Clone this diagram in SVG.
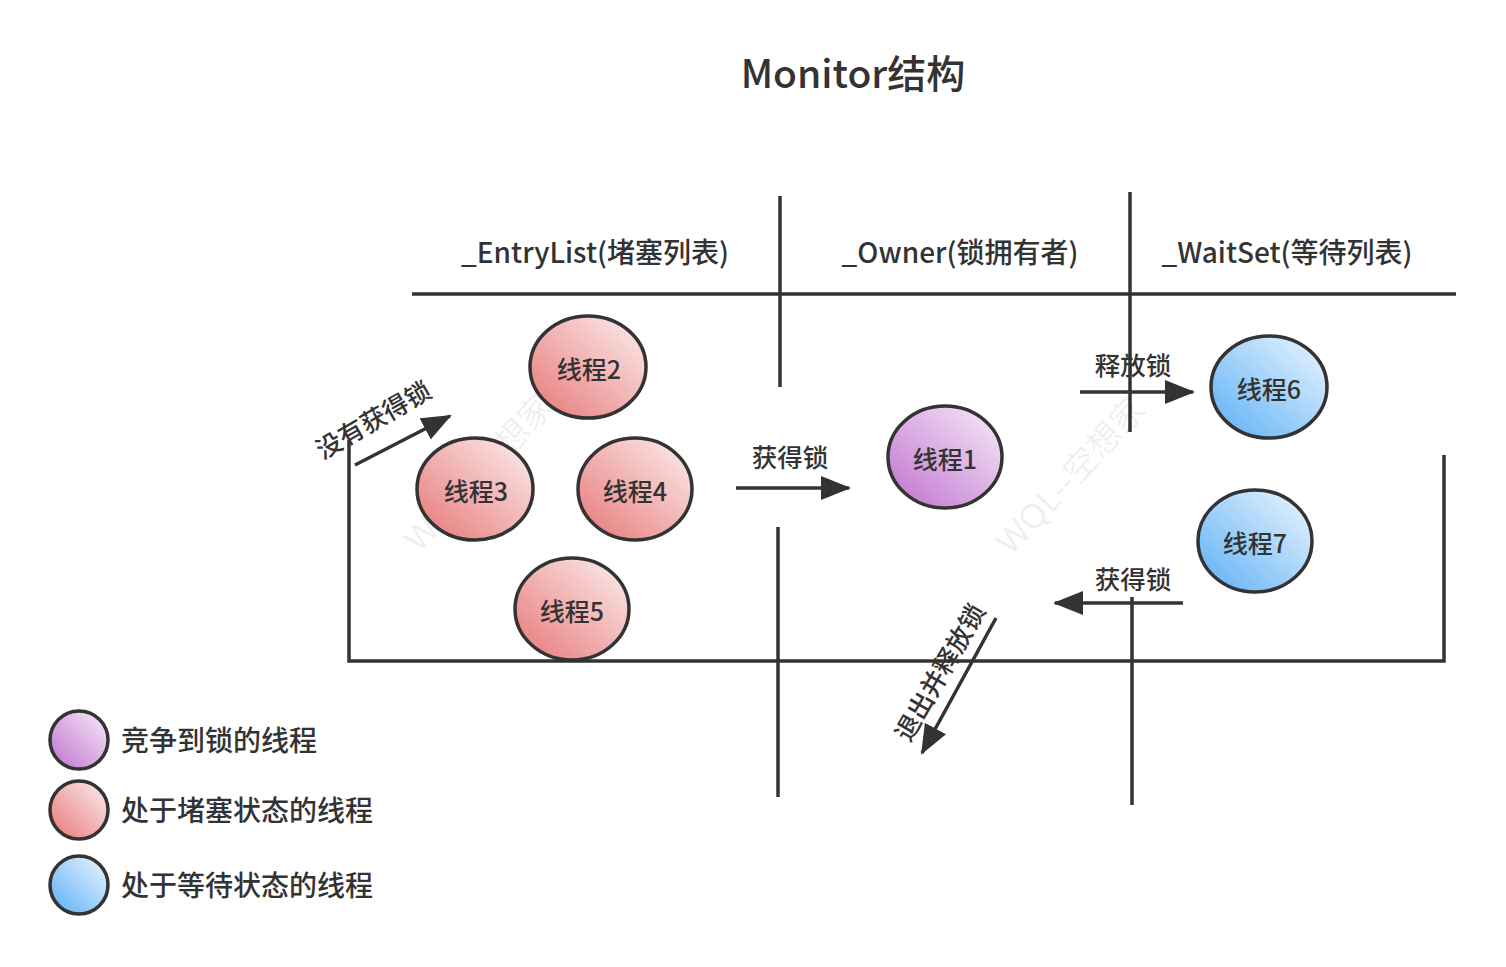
<svg xmlns="http://www.w3.org/2000/svg" width="1506" height="967" viewBox="0 0 1506 967">
<style>
.ln{stroke:#333;stroke-width:3.5;fill:none}
.ar{stroke:#333;stroke-width:3.5;fill:none;marker-end:url(#ah)}
.nd{stroke:#333;stroke-width:3.5}
.t{font-family:"PingFang SC","Noto Sans CJK SC","Noto Sans",sans-serif;fill:#333;font-weight:500}
.nt{font-size:25px;text-anchor:middle;dominant-baseline:central}
.hd{font-size:28px;text-anchor:middle}
.lb{font-size:25.5px;text-anchor:middle}
.lg{font-size:28px}
.wm{font-family:"Noto Sans","Noto Sans CJK SC",sans-serif;font-size:34px;fill:#000;fill-opacity:0.07;text-anchor:middle;dominant-baseline:central}
</style>
<defs>
<marker id="ah" markerUnits="userSpaceOnUse" markerWidth="30" markerHeight="24" refX="28" refY="12" orient="auto">
<path d="M0,0 L30,12 L0,24 Z" fill="#333"/>
</marker>
<linearGradient id="gr" x1="0" y1="1" x2="1" y2="0">
<stop offset="0" stop-color="#e67676"/>
<stop offset="1" stop-color="#fdf0f0"/>
</linearGradient>
<linearGradient id="gp" x1="0" y1="1" x2="1" y2="0">
<stop offset="0" stop-color="#bf6fcf"/>
<stop offset="1" stop-color="#f8eefa"/>
</linearGradient>
<linearGradient id="gb" x1="0" y1="1" x2="1" y2="0">
<stop offset="0" stop-color="#5aaef5"/>
<stop offset="1" stop-color="#eef7fe"/>
</linearGradient>
</defs>
<rect width="1506" height="967" fill="#fff"/>

<text class="wm" transform="translate(478,472) rotate(-47)">WQL--空想家</text>
<text class="wm" transform="translate(1070,475) rotate(-47)">WQL--空想家</text>

<text class="t" x="853" y="88" font-size="39" text-anchor="middle">Monitor结构</text>

<g id="headers">
<text class="t hd" x="595" y="263">_EntryList(堵塞列表)</text>
<text class="t hd" x="960" y="263">_Owner(锁拥有者)</text>
<text class="t hd" x="1287" y="263">_WaitSet(等待列表)</text>
</g>

<g id="connectors">
<line class="ln" x1="412" y1="294" x2="1456" y2="294"/>
<line class="ln" x1="780" y1="196" x2="780" y2="387"/>
<line class="ln" x1="778" y1="527" x2="778" y2="797"/>
<line class="ln" x1="1130" y1="192" x2="1130" y2="432"/>
<line class="ln" x1="1132" y1="597" x2="1132" y2="805"/>
<polyline class="ln" points="349,440 349,661 1444,661 1444,455"/>
<line class="ar" x1="355" y1="465" x2="450" y2="416"/>
<line class="ar" x1="736" y1="488" x2="849" y2="488"/>
<line class="ar" x1="1080" y1="392" x2="1193" y2="392"/>
<line class="ar" x1="1183" y1="603" x2="1055" y2="603"/>
<line class="ar" x1="996" y1="618" x2="922" y2="753"/>
<text class="t lb" transform="translate(378,428) rotate(-30)">没有获得锁</text>
<text class="t lb" x="790" y="467">获得锁</text>
<text class="t lb" x="1133" y="375">释放锁</text>
<text class="t lb" x="1133" y="589">获得锁</text>
<text class="t lb" transform="translate(948,677) rotate(-60)">退出并释放锁</text>
</g>

<g id="n2"><ellipse class="nd" cx="588" cy="367" rx="58" ry="51" fill="url(#gr)"/><text class="t nt" x="589" y="368">线程2</text></g>
<g id="n3"><ellipse class="nd" cx="475" cy="489" rx="58" ry="51" fill="url(#gr)"/><text class="t nt" x="476" y="490">线程3</text></g>
<g id="n4"><ellipse class="nd" cx="635" cy="489" rx="57" ry="51" fill="url(#gr)"/><text class="t nt" x="635" y="490">线程4</text></g>
<g id="n5"><ellipse class="nd" cx="572" cy="609" rx="57" ry="51" fill="url(#gr)"/><text class="t nt" x="572" y="610">线程5</text></g>
<g id="n1"><ellipse class="nd" cx="945" cy="457" rx="57" ry="51" fill="url(#gp)"/><text class="t nt" x="945" y="458">线程1</text></g>
<g id="n6"><ellipse class="nd" cx="1269" cy="387" rx="58" ry="51" fill="url(#gb)"/><text class="t nt" x="1269" y="388">线程6</text></g>
<g id="n7"><ellipse class="nd" cx="1255" cy="541" rx="57" ry="51" fill="url(#gb)"/><text class="t nt" x="1255" y="542">线程7</text></g>

<g id="legend">
<circle class="nd" cx="79" cy="740" r="29" fill="url(#gp)"/>
<text class="t lg" x="121" y="751">竞争到锁的线程</text>
<circle class="nd" cx="79" cy="810" r="29" fill="url(#gr)"/>
<text class="t lg" x="121" y="821">处于堵塞状态的线程</text>
<circle class="nd" cx="79" cy="885" r="29" fill="url(#gb)"/>
<text class="t lg" x="121" y="896">处于等待状态的线程</text>
</g>
</svg>
